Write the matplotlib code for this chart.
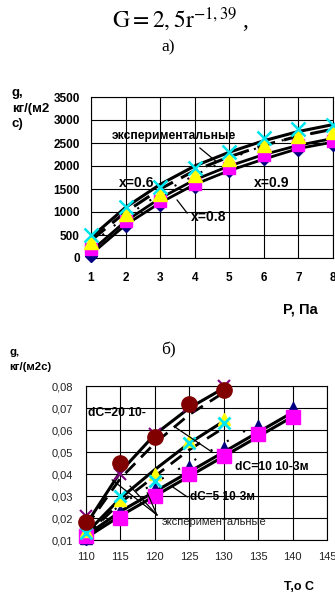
import numpy as np
import matplotlib
matplotlib.use('Agg')
import matplotlib.pyplot as plt

plt.rcParams['font.family'] = ['Liberation Sans', 'DejaVu Sans']
plt.rcParams['mathtext.fontset'] = 'stix'

# --- chart a) data: g vs P ---
p_vals = [1, 2, 3, 4, 5, 6, 7, 8]
g_diamond = [50, 700, 1150, 1550, 1900, 2150, 2350, 2450]
g_square = [200, 800, 1250, 1600, 1950, 2250, 2450, 2550]
g_triangle = [350, 950, 1400, 1800, 2150, 2450, 2650, 2750]
g_cross = [500, 1100, 1550, 1950, 2300, 2600, 2800, 2900]
g_calc_top = [450, 1100, 1600, 2000, 2300, 2550, 2750, 2900]
g_exp_dash = [380, 1000, 1500, 1900, 2200, 2450, 2650, 2800]
g_exp_dot = [300, 900, 1400, 1800, 2150, 2450, 2650, 2800]
g_calc_low1 = [150, 800, 1300, 1700, 2000, 2250, 2450, 2600]
g_calc_low2 = [80, 720, 1200, 1600, 1900, 2150, 2380, 2520]

# --- chart b) data: g vs T ---
t_short = [110, 115, 120, 125, 130]
t_long = [110, 115, 120, 125, 130, 135, 140]
b_circle = [0.018, 0.045, 0.057, 0.072, 0.078]
b_star = [0.021, 0.040, 0.058, 0.071, 0.080]
b_yellow = [0.014, 0.028, 0.040, 0.055, 0.065]
b_cyan = [0.013, 0.030, 0.037, 0.054, 0.063]
b_navy = [0.011, 0.023, 0.033, 0.043, 0.052, 0.062, 0.070]
b_square = [0.012, 0.020, 0.030, 0.040, 0.048, 0.058, 0.066]
b_line20 = [0.017, 0.041, 0.058, 0.070, 0.079]
b_dash20 = [0.016, 0.038, 0.054, 0.067, 0.077]
b_line10 = [0.013, 0.029, 0.042, 0.054, 0.064]
b_dash10 = [0.012, 0.027, 0.039, 0.051, 0.061]
b_line5a = [0.012, 0.023, 0.032, 0.041, 0.050, 0.059, 0.068]
b_line5b = [0.011, 0.021, 0.030, 0.039, 0.048, 0.057, 0.066]
b_dot5 = [0.013, 0.026, 0.036, 0.045, 0.054, 0.063]

W, H = 335, 597
fig = plt.figure(figsize=(W / 100, H / 100), dpi=100)
fig.patch.set_facecolor('white')


def px_axes(left, top, right, bottom):
    return fig.add_axes([left / W, 1 - bottom / H, (right - left) / W, (bottom - top) / H])


# titles
fig.text(181 / W, 1 - 20 / H, r'$\mathrm{G = 2,5r}^{-1,39}$ ,', ha='center', va='center',
         fontsize=17, family='Liberation Serif')
fig.text(168 / W, 1 - 47 / H, 'а)', ha='center', va='center', fontsize=12.5, family='Liberation Serif')
fig.text(168 / W, 1 - 350 / H, 'б)', ha='center', va='center', fontsize=12.5, family='Liberation Serif')

# ---------------- chart a ----------------
ax = px_axes(91, 97, 333, 258)
ax.set_xlim(1, 8)
ax.set_ylim(0, 3500)
ax.set_xticks(p_vals)
ax.set_yticks(np.arange(0, 3501, 500))
ax.grid(True, color='black', linewidth=0.8)
ax.tick_params(length=0, pad=10, labelsize=8.5)
ax.tick_params(axis='y', pad=8)
for lab in ax.get_xticklabels() + ax.get_yticklabels():
    lab.set_fontweight('bold')
for s in ax.spines.values():
    s.set_color('black')
    s.set_linewidth(0.8)

ax.plot(p_vals, g_calc_top, color='black', lw=2.2, zorder=3, clip_on=False)
ax.plot(p_vals, g_exp_dash, color='black', lw=2.2, ls=(0, (6, 3)), zorder=3, clip_on=False)
ax.plot(p_vals, g_exp_dot, color='black', lw=1.5, ls=(0, (1, 6)), zorder=3, clip_on=False)
ax.plot(p_vals, g_calc_low1, color='black', lw=2.0, zorder=3, clip_on=False)
ax.plot(p_vals, g_calc_low2, color='black', lw=2.0, zorder=3, clip_on=False)

ax.plot(p_vals, g_diamond, 'D', color='#000080', ms=6, ls='none', zorder=4, clip_on=False)
ax.plot(p_vals, g_square, 's', color='#ff00ff', ms=8, ls='none', zorder=5, clip_on=False)
ax.plot(p_vals, g_triangle, '^', color='#ffff00', ms=10, ls='none', zorder=6, clip_on=False)
ax.plot(p_vals, g_cross, 'x', color='#00e5ee', ms=10, mew=1.8, ls='none', zorder=7, clip_on=False)

ax.text(3.4, 2520, 'экспериментальные', ha='center', va='bottom', fontsize=8.7, fontweight='bold')
ax.plot([4.15, 4.64], [2391, 2087], color='black', lw=0.9, zorder=8)
ax.text(2.33, 1630, 'x=0.6', ha='center', va='center', fontsize=10, fontweight='bold')
ax.text(6.24, 1630, 'x=0.9', ha='center', va='center', fontsize=10, fontweight='bold')
ax.text(4.39, 891, 'x=0.8', ha='center', va='center', fontsize=10, fontweight='bold')
ax.plot([3.49, 3.78], [1261, 978], color='black', lw=0.9, zorder=8)

fig.text(12 / W, 1 - 93 / H, 'g,', fontsize=9.5, fontweight='bold', va='center')
fig.text(12 / W, 1 - 109 / H, 'кг/(м2', fontsize=9.5, fontweight='bold', va='center')
fig.text(12 / W, 1 - 124 / H, 'с)', fontsize=9.5, fontweight='bold', va='center')
fig.text(300 / W, 1 - 310 / H, 'Р, Па', fontsize=10.5, fontweight='bold', ha='center', va='center')

# ---------------- chart b ----------------
bx = px_axes(86, 386, 327, 540)
bx.set_xlim(110, 145)
bx.set_ylim(0.01, 0.08)
bx.set_xticks(np.arange(110, 146, 5))
yt = np.arange(0.01, 0.0801, 0.01)
bx.set_yticks(yt)
bx.set_yticklabels([f'{v:.2f}'.replace('.', ',') for v in yt])
bx.grid(True, color='black', linewidth=0.8)
bx.tick_params(length=0, pad=9, labelsize=8, labelcolor='#222222')
bx.tick_params(axis='y', pad=9)
for s in bx.spines.values():
    s.set_color('black')
    s.set_linewidth(0.8)

bx.plot(t_short, b_line20, color='black', lw=2.2, zorder=3, clip_on=False)
bx.plot(t_short, b_dash20, color='black', lw=2.0, ls=(0, (5, 3)), zorder=3, clip_on=False)
bx.plot(t_short, b_line10, color='black', lw=2.2, zorder=3, clip_on=False)
bx.plot(t_short, b_dash10, color='black', lw=2.0, ls=(0, (5, 3)), zorder=3, clip_on=False)
bx.plot(t_long, b_line5a, color='black', lw=2.2, zorder=3, clip_on=False)
bx.plot(t_long, b_line5b, color='black', lw=2.2, zorder=3, clip_on=False)
bx.plot(t_long[:6], b_dot5, color='black', lw=1.5, ls=(0, (1, 8)), zorder=3, clip_on=False)

bx.plot(t_long, b_navy, '^', color='#000080', ms=8, ls='none', zorder=4, clip_on=False)
bx.plot(110, 0.0105, 'D', color='#000080', ms=6, zorder=4, clip_on=False)
bx.plot(t_long, b_square, 's', color='#ff00ff', ms=10, ls='none', zorder=5, clip_on=False)
bx.plot(t_short, b_yellow, '^', color='#ffff00', ms=9, ls='none', zorder=5, clip_on=False)
bx.plot(t_short, b_cyan, 'x', color='#00e5ee', ms=9, mew=2, ls='none', zorder=6, clip_on=False)
bx.plot(t_short, b_star, 'x', color='#800080', ms=9, mew=1.5, ls='none', zorder=6, clip_on=False)
bx.plot(t_short, b_circle, 'o', color='#800000', ms=11, ls='none', zorder=7, clip_on=False)

bx.text(110.3, 0.0677, 'dC=20 10-', ha='left', va='center', fontsize=8.7, fontweight='bold')
bx.plot([122.9, 128.3], [0.0614, 0.050], color='black', lw=0.9, zorder=8)
bx.text(131.6, 0.0432, 'dC=10 10-3м', ha='left', va='center', fontsize=8.7, fontweight='bold')
bx.text(125.1, 0.0296, 'dC=5 10-3м', ha='left', va='center', fontsize=8.5, fontweight='bold')
bx.plot([122.6, 124.7], [0.0341, 0.0296], color='black', lw=0.9, zorder=8)
bx.text(121.0, 0.0182, 'экспериментальные', ha='left', va='center', fontsize=8, color='#222222')
for tx, ty in [(113.8, 0.0373), (116.4, 0.0345), (118.9, 0.0314)]:
    bx.plot([120.3, tx], [0.0214, ty], color='black', lw=0.9, zorder=8)

fig.text(9 / W, 1 - 352 / H, 'g,', fontsize=8.2, fontweight='bold', va='center')
fig.text(9 / W, 1 - 367 / H, 'кг/(м2с)', fontsize=8.2, fontweight='bold', va='center')
fig.text(284 / W, 1 - 587 / H, 'Т,о С', fontsize=9, fontweight='bold', ha='left', va='center')

fig.savefig('out.png', dpi=100, facecolor='white')
